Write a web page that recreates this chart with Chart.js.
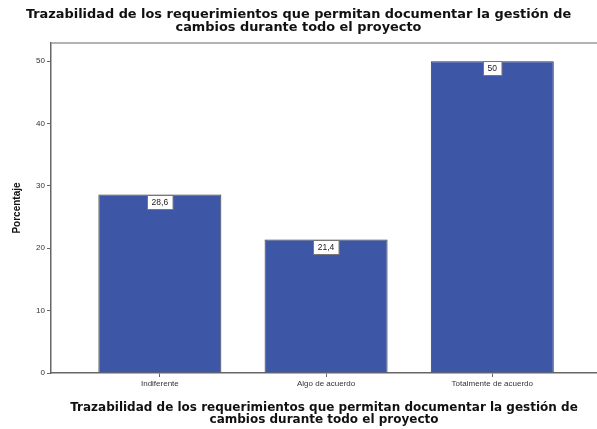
<!DOCTYPE html>
<html>
<head>
<meta charset="utf-8">
<script src="https://cdn.jsdelivr.net/npm/chart.js@4"></script>
<style>
  html, body { margin: 0; padding: 0; background: #fff; }
  #wrap { width: 597px; height: 429px; }
</style>
</head>
<body>
<div id="wrap"><canvas id="trazabilidadChart"></canvas></div>
<script>
const categorias = ['Indiferente', 'Algo de acuerdo', 'Totalmente de acuerdo'];
const porcentajes = [28.6, 21.4, 50];
const ticksY = [0, 10, 20, 30, 40, 50];
const titulo = [
    'Trazabilidad de los requerimientos que permitan documentar la gestión de',
    'cambios durante todo el proyecto'
];

// etiquetas de valor en cajitas blancas bajo el borde superior de cada barra
const etiquetasValor = {
    id: 'etiquetasValor',
    afterDatasetsDraw(chart) {
        const ctx = chart.ctx;
        const meta = chart.getDatasetMeta(0);
        ctx.save();
        ctx.font = '8.5px "Liberation Sans", Arial, sans-serif';
        ctx.textAlign = 'center';
        ctx.textBaseline = 'middle';
        meta.data.forEach((bar, i) => {
            const txt = String(porcentajes[i]).replace('.', ',');
            const w = Math.max(ctx.measureText(txt).width + 9, 15);
            const h = 14;
            const x = Math.round(bar.x - w / 2) + 0.5;
            const y = Math.round(bar.y) + 0.5;
            ctx.fillStyle = '#ffffff';
            ctx.fillRect(x, y, w, h);
            ctx.strokeStyle = '#777';
            ctx.lineWidth = 1;
            ctx.strokeRect(x, y, w, h);
            ctx.fillStyle = '#222';
            ctx.fillText(txt, bar.x, y + h / 2 + 0.5);
        });
        ctx.restore();
    }
};

// línea superior del marco del gráfico
const marco = {
    id: 'marco',
    beforeDatasetsDraw(chart) {
        const {ctx, chartArea} = chart;
        ctx.save();
        ctx.strokeStyle = '#999';
        ctx.lineWidth = 1.5;
        ctx.beginPath();
        ctx.moveTo(chartArea.left, chartArea.top);
        ctx.lineTo(chartArea.right, chartArea.top);
        ctx.stroke();
        ctx.restore();
    }
};

const ctx = document.getElementById('trazabilidadChart').getContext('2d');

const trazabilidadChart = new Chart(ctx, {
    type: 'bar',
    data: {
        datasets: [{
            label: 'Porcentaje',
            data: porcentajes.map((v, i) => ({x: i, y: v})),
            backgroundColor: '#3d56a6',
            borderColor: '#3a3a3a',
            borderWidth: 1,
            barPercentage: 0.74,
            categoryPercentage: 1
        }]
    },
    options: {
        responsive: true,
        maintainAspectRatio: false,
        animation: false,
        layout: { padding: 0 },
        scales: {
            x: {
                type: 'linear',
                offset: false,
                min: -0.655,
                max: 2.63,
                afterBuildTicks: (scale) => {
                    scale.ticks = categorias.map((c, i) => ({value: i}));
                },
                afterFit: (scale) => { scale.height = 56; },
                ticks: {
                    autoSkip: false,
                    maxRotation: 0,
                    padding: 2,
                    color: '#333',
                    font: { family: '"Liberation Sans", Arial, sans-serif', size: 8 },
                    callback: (v) => categorias[v]
                },
                grid: {
                    offset: false,
                    drawOnChartArea: false,
                    tickLength: 4,
                    color: '#666'
                },
                border: { color: '#666', width: 1.5 },
                title: {
                    display: true,
                    text: titulo,
                    color: '#111',
                    padding: { top: 0, bottom: 3 },
                    font: { family: '"DejaVu Sans", Verdana, sans-serif', size: 12, weight: 'bold', lineHeight: 1 }
                }
            },
            y: {
                min: 0,
                max: 52.9,
                afterBuildTicks: (scale) => {
                    scale.ticks = ticksY.map(v => ({value: v}));
                },
                afterFit: (scale) => { scale.width = 51; },
                ticks: {
                    padding: 2,
                    color: '#333',
                    font: { family: '"Liberation Sans", Arial, sans-serif', size: 8 }
                },
                grid: {
                    drawOnChartArea: false,
                    tickLength: 4,
                    color: '#666'
                },
                border: { color: '#666', width: 1.5 },
                title: {
                    display: true,
                    text: 'Porcentaje',
                    color: '#111',
                    padding: { top: 11, bottom: 0 },
                    font: { family: '"Liberation Sans", Arial, sans-serif', size: 10, weight: 'bold' }
                }
            }
        },
        plugins: {
            legend: { display: false },
            tooltip: { enabled: false },
            title: {
                display: true,
                text: titulo,
                color: '#111',
                padding: { top: 8, bottom: 9 },
                font: { family: '"DejaVu Sans", Verdana, sans-serif', size: 12.9, weight: 'bold', lineHeight: 1.01 }
            }
        }
    },
    plugins: [marco, etiquetasValor]
});
</script>
</body>
</html>
